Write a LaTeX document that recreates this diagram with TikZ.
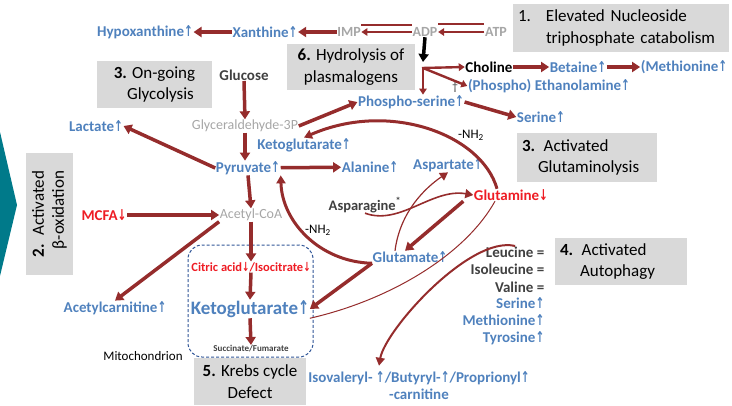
\documentclass[tikz,border=0pt]{standalone}
\usepackage{fontspec}
\setmainfont{Carlito}
\newfontfamily\arrowfont{DejaVu Sans}
\usetikzlibrary{arrows.meta}

\definecolor{metblue}{RGB}{79,129,189}
\definecolor{metred}{RGB}{238,28,36}
\definecolor{arrowred}{RGB}{149,44,44}
\definecolor{metgray}{RGB}{166,166,166}
\definecolor{boxgray}{RGB}{217,217,217}
\definecolor{darktext}{RGB}{64,64,64}
\definecolor{dashblue}{RGB}{47,85,151}
\definecolor{chevron}{RGB}{0,122,138}

\newcommand{\incr}{{\arrowfont\scalebox{.7}[1]{↑}}}
\newcommand{\decr}{{\arrowfont\scalebox{.7}[1]{↓}}}

\tikzset{
  met/.style={font=\fontsize{15}{17}\selectfont\bfseries, inner sep=0.5pt},
  uplbl/.style={met, text=metblue},
  downlbl/.style={met, text=metred},
  graylbl/.style={met, text=metgray},
  darklbl/.style={met, text=darktext},
  infobox/.style={fill=boxgray, font=\fontsize{17}{21.5}\selectfont, inner sep=0pt},
  conv/.style={draw=arrowred, line width=3.5pt, -{Triangle[length=8pt,width=10pt]}},
  convthin/.style={draw=arrowred, line width=2.4pt, -{Triangle[length=6pt,width=7.5pt]}},
  swoosh/.style={draw=arrowred, line width=2.4pt, -{Triangle[length=8pt,width=9pt]}},
  hairline/.style={draw=arrowred, line width=1pt},
}

\begin{document}
\begin{tikzpicture}[x=1pt,y=-1pt]
  \useasboundingbox (0,0) rectangle (732,405);
  \fill[chevron] (0,132) -- (17,205) -- (0,276) -- cycle;

  % grey boxes
  \node[infobox, text width=210pt, inner xsep=3pt, minimum height=48pt, align=left] (box1) at (621,28)
    {\makebox[30pt][l]{\hspace*{2pt}1.}Elevated Nucleoside\\\hspace*{30pt}triphosphate catabolism};
  \node[infobox, minimum width=128pt, minimum height=46pt, align=center] (box6) at (351,67) {\textbf{6.} Hydrolysis of\\plasmalogens};
  \node[infobox, minimum width=115pt, minimum height=47pt, align=center] (box3a) at (154.5,84.5) {\textbf{3.} On-going\\\hspace*{12pt}Glycolysis};
  \node[infobox, text width=130pt, inner xsep=5pt, minimum height=49pt, align=left] (box3b) at (587,157.5) {\textbf{3.} Activated\\\hspace*{16pt}Glutaminolysis};
  \node[infobox, text width=122pt, inner xsep=5pt, minimum height=47pt, align=left] (box4) at (621,261.5) {\textbf{4.} Activated\\\hspace*{20pt}Autophagy};
  \node[infobox, minimum width=112pt, minimum height=47pt, align=center] (box5) at (250,381.5) {\textbf{5.} Krebs cycle\\Defect};
  \node[infobox, rotate=90, minimum width=122pt, minimum height=47pt, align=right, font=\fontsize{17}{20}\selectfont] (box2) at (49.5,214) {\textbf{2.}\enspace Activated\\β-oxidation};

  % mitochondrion
  \draw[dashblue, line width=1pt, dash pattern=on 3pt off 2pt, rounded corners=14pt] (188,245) rectangle (313,357);

  % metabolites
  \node[uplbl] (hypo) at (145,32) {Hypoxanthine\incr};
  \node[uplbl] (xan) at (265,32) {Xanthine\incr};
  \node[graylbl, font=\fontsize{14}{16}\selectfont\bfseries] (imp) at (349,32) {IMP};
  \node[graylbl, font=\fontsize{14}{16}\selectfont\bfseries] (adp) at (425,32) {ADP};
  \node[graylbl, font=\fontsize{14}{16}\selectfont\bfseries] (atp) at (496,32) {ATP};
  \node[met] (chol) at (489,67) {Choline};
  \node[uplbl] (bet) at (578,67) {Betaine\incr};
  \node[uplbl] (meth) at (684,67) {(Methionine\incr};
  \node[uplbl] (etha) at (549,86) {(Phospho) Ethanolamine\incr};
  \node[darklbl, font=\fontsize{12}{13}\selectfont, inner sep=0pt] (dag) at (455,87) {\textdagger};
  \node[uplbl] (pser) at (411,102) {Phospho-serine\incr};
  \node[uplbl] (ser) at (541,117) {Serine\incr};
  \node[darklbl] (gluc) at (244,75) {Glucose};
  \node[graylbl, font=\fontsize{14}{16}\selectfont] (gald) at (245,126) {Glyceraldehyde-3P};
  \node[uplbl] (lac) at (96,126) {Lactate\incr};
  \node[uplbl] (kgup) at (304,145) {Ketoglutarate\incr};
  \node[uplbl] (pyr) at (248,168) {Pyruvate\incr};
  \node[uplbl] (ala) at (370,167) {Alanine\incr};
  \node[uplbl] (asp) at (448,165) {Aspartate\incr};
  \node[downlbl] (gln) at (511,195) {Glutamine\decr};
  \node[darklbl, font=\fontsize{14.5}{16}\selectfont\bfseries] (asn) at (365,205) {Asparagine\textsuperscript{*}};
  \node[met, font=\fontsize{13}{15}\selectfont] (nhup) at (471,135) {-NH\textsubscript{2}};
  \node[met, font=\fontsize{13}{15}\selectfont] (nhlow) at (318,230) {-NH\textsubscript{2}};
  \node[uplbl] (glu) at (410,257) {Glutamate\incr};
  \node[downlbl] (mcfa) at (104,215) {MCFA\decr};
  \node[graylbl, font=\fontsize{14}{16}\selectfont] (acoa) at (251,215) {Acetyl-CoA};
  \node[uplbl] (acar) at (115,308) {Acetylcarnitine\incr};
  \node[downlbl, font=\fontsize{12.5}{14}\selectfont\bfseries] (cit) at (251,267) {Citric acid\decr/Isocitrate\decr};
  \node[uplbl, font=\fontsize{19}{21}\selectfont\bfseries] (kg) at (250,309) {Ketoglutarate\incr};
  \node[darklbl, font=\fontsize{9}{10}\selectfont\bfseries] (succ) at (251,349) {Succinate/Fumarate};
  \node[met, font=\fontsize{13}{15}\selectfont] (mito) at (143,356) {Mitochondrion};
  \node[darklbl, anchor=east] (leu) at (545,252) {Leucine =};
  \node[darklbl, anchor=east] (ile) at (545,269) {Isoleucine =};
  \node[darklbl, anchor=east] (val) at (545,287) {Valine =};
  \node[uplbl, anchor=east] (ser2) at (545,303) {Serine\incr};
  \node[uplbl, anchor=east] (met2) at (545,320) {Methionine\incr};
  \node[uplbl, anchor=east] (tyr) at (545,338) {Tyrosine\incr};
  \node[uplbl, align=center, font=\fontsize{15}{17}\selectfont\bfseries] (iso) at (419,385.5)
    {Isovaleryl- \incr/Butyryl-\incr/Proprionyl\incr\\-carnitine};

  % nucleotides
  \draw[conv] (xan) -- (hypo);
  \draw[conv] (imp) -- (xan);
  \draw[draw=arrowred, line width=2.4pt] ([yshift=7pt]imp.east) -- ([yshift=7pt]adp.west);
  \draw[convthin] (adp.west) -- (imp.east);
  \draw[draw=arrowred, line width=2.4pt] ([yshift=8pt]adp.east) -- ([yshift=8pt]atp.west);
  \draw[convthin] (atp.west) -- (adp.east);

  % plasmalogens
  \coordinate (fork) at (423,68);
  \draw[line width=3.5pt, -{Triangle[length=8pt,width=10pt]}] (adp.south) -- ([yshift=6pt]fork);
  \draw[convthin] ([xshift=-1pt]fork) -- (chol.west);
  \draw[convthin] (fork) -- (fork |- pser.north);
  \draw[convthin] (fork) -- (etha.west);
  \draw[conv] (chol) -- (bet);
  \draw[conv] (bet) -- (meth);
  \draw[conv] (pser.east) -- (ser.west);

  % glycolysis
  \draw[conv] (gluc.south) -- (gald.north);
  \draw[conv] (gald.east) -- (pser.west);
  \draw[conv] (gald.south) -- (gald.south |- pyr.north);
  \draw[conv] (pyr.west) -- (lac.east);
  \draw[conv] (pyr) -- (ala);
  \draw[conv] (pyr.south) -- (acoa.north);
  \draw[conv] (mcfa) -- (acoa);
  \draw[conv] (acoa.south west) -- (acar.north);
  \draw[conv] (acoa.south) -- (cit.north);
  \draw[conv] (cit.south) -- (kg.north);
  \draw[conv] (kg.south) -- (succ.north);

  % glutaminolysis
  \draw[swoosh, line width=3pt] ([xshift=-14pt]gln.north) .. controls (482,135) and (390,100) .. (kgup.north);
  \draw[swoosh, line width=3pt] (glu.south west) .. controls (320,262) and (282,222) .. (pyr.south east);
  \draw[conv] ([xshift=-10pt]gln.south west) -- ([xshift=-5pt]glu.north);
  \draw[swoosh, line width=1.6pt] (asn.south) .. controls (400,226) and (432,188) .. (gln.west);
  \draw[swoosh, line width=1.2pt] ([xshift=-15pt]glu.north) .. controls (400,212) and (425,188) .. (asp.south);
  \draw[conv] (glu.south west) -- (kg.east);

  % autophagy
  \draw[swoosh, line width=2pt] (leu.north) .. controls (470,235) and (385,330) .. ([xshift=-40pt,yshift=5pt]iso.north);
  \draw[hairline] ([xshift=-16pt]gln.south) .. controls (465,255) and (390,300) .. (kg.south east);
\end{tikzpicture}
\end{document}
